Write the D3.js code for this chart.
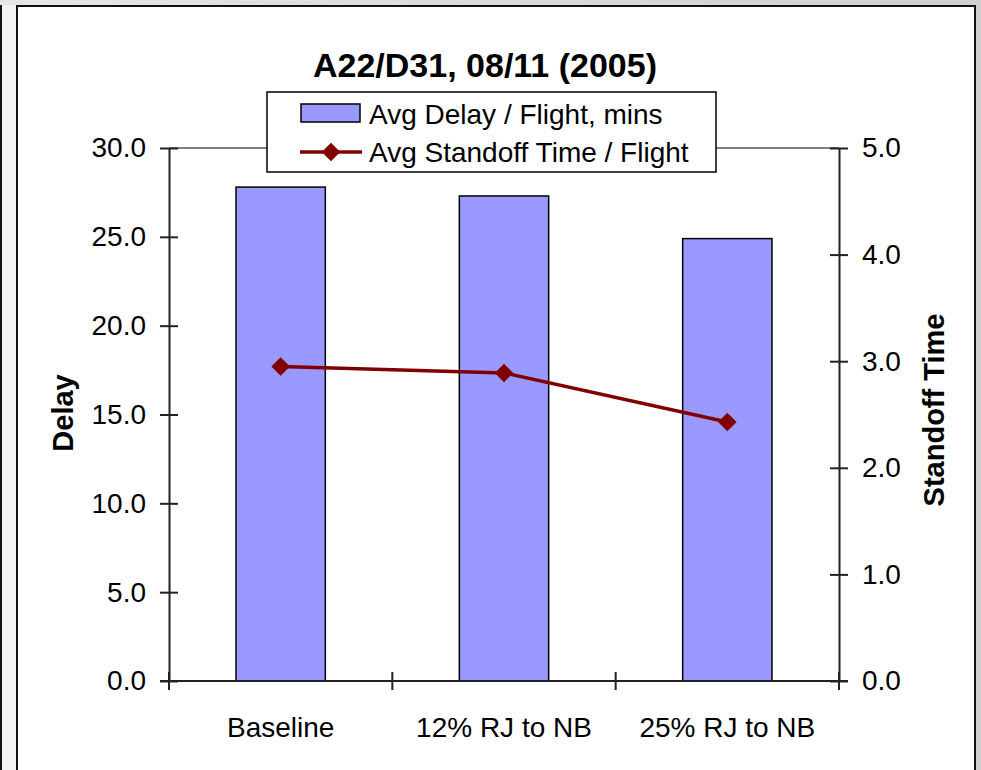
<!DOCTYPE html>
<html><head><meta charset="utf-8">
<script src="https://cdn.jsdelivr.net/npm/d3@7"></script>
<style>
html,body{margin:0;padding:0;background:#dcdcdc;overflow:hidden;}
svg{display:block;font-family:"Liberation Sans",Arial,sans-serif;}
</style></head>
<body>
<script>
const categories = ["Baseline", "12% RJ to NB", "25% RJ to NB"];
const delayValues = [27.8, 27.3, 24.9];
const standoffValues = [2.95, 2.89, 2.43];
const leftTicks = [0, 5, 10, 15, 20, 25, 30];
const rightTicks = [0, 1, 2, 3, 4, 5];
const titleText = "A22/D31, 08/11 (2005)";
const seriesNames = ["Avg Delay / Flight, mins", "Avg Standoff Time / Flight"];

(function(){
const W = 981, H = 770;
const svg = d3.select("body").append("svg").attr("width", W).attr("height", H);

// background / frame
const grad = svg.append("defs").append("linearGradient").attr("id","bg").attr("x1",0).attr("x2",1);
grad.append("stop").attr("offset","0%").attr("stop-color","#e6e6e6");
grad.append("stop").attr("offset","100%").attr("stop-color","#cfcfcf");
svg.append("rect").attr("width",W).attr("height",H).attr("fill","url(#bg)");
svg.append("rect").attr("x",0).attr("y",5).attr("width",16).attr("height",H).attr("fill","#f2f2f2");
svg.append("line").attr("x1",1).attr("x2",1).attr("y1",5).attr("y2",H).attr("stroke","#111").attr("stroke-width",2);
svg.append("rect").attr("x",17).attr("y",6).attr("width",958).attr("height",H).attr("fill","#fff")
  .attr("stroke","#111").attr("stroke-width",2);

const pl = 169, pr = 839, pt = 148, pb = 681;
const x = d3.scaleBand().domain(categories).range([pl, pr]).paddingInner(0.6).paddingOuter(0.3);
const yL = d3.scaleLinear().domain([0, 30]).range([pb, pt]);
const yR = d3.scaleLinear().domain([0, 5]).range([pb, pt]);
const xc = d => x(d) + x.bandwidth()/2;

// plot area top border
svg.append("line").attr("x1",pl).attr("x2",pr).attr("y1",pt).attr("y2",pt)
  .attr("stroke","#808080").attr("stroke-width",2);

// bars
svg.append("g").selectAll("rect").data(categories).join("rect")
  .attr("x", d => x(d)).attr("width", x.bandwidth())
  .attr("y", (d,i) => yL(delayValues[i])).attr("height", (d,i) => pb - yL(delayValues[i]))
  .attr("fill","#9999ff").attr("stroke","#000").attr("stroke-width",1.5);

// axes
const fmt = d3.format(".1f");
const gL = svg.append("g").attr("transform",`translate(${pl},0)`)
  .call(d3.axisLeft(yL).tickValues(leftTicks).tickFormat(fmt).tickSizeInner(9).tickSizeOuter(0).tickPadding(14));
const gR = svg.append("g").attr("transform",`translate(${pr},0)`)
  .call(d3.axisRight(yR).tickValues(rightTicks).tickFormat(fmt).tickSizeInner(9).tickSizeOuter(0).tickPadding(14));
[gL, gR].forEach(g => {
  g.select(".domain").attr("stroke","#222").attr("stroke-width",2);
  g.selectAll(".tick line").attr("stroke","#222").attr("stroke-width",2);
  g.selectAll(".tick text").attr("font-size",28).attr("fill","#000").attr("font-family","Liberation Sans, Arial, sans-serif");
});
gL.selectAll(".tick").append("line").attr("x1",0).attr("x2",9).attr("stroke","#222").attr("stroke-width",2);
gR.selectAll(".tick").append("line").attr("x1",0).attr("x2",-9).attr("stroke","#222").attr("stroke-width",2);

// x axis
const gX = svg.append("g").attr("transform",`translate(0,${pb})`);
gX.append("line").attr("x1",pl-9).attr("x2",pr+9).attr("stroke","#222").attr("stroke-width",2);
const bounds = d3.range(categories.length+1).map(i => pl + i*(pr-pl)/categories.length);
gX.selectAll("line.t").data(bounds).join("line").attr("class","t")
  .attr("x1",d=>d).attr("x2",d=>d).attr("y1",-9).attr("y2",9).attr("stroke","#222").attr("stroke-width",2);
gX.selectAll("text").data(categories).join("text")
  .attr("x", d => xc(d)).attr("y", 56).attr("text-anchor","middle")
  .attr("font-size",28).text(d => d);

// line series
const line = d3.line().x(d => xc(d.c)).y(d => yR(d.v));
const pts = categories.map((c,i) => ({c, v: standoffValues[i]}));
svg.append("path").datum(pts).attr("d", line).attr("fill","none").attr("stroke","#800000").attr("stroke-width",3.5);
const diamond = d3.symbol().type(d3.symbolDiamond2).size(220);
svg.append("g").selectAll("path").data(pts).join("path")
  .attr("transform", d => `translate(${xc(d.c)},${yR(d.v)})`)
  .attr("d", diamond).attr("fill","#800000");

// title
svg.append("text").attr("x",485).attr("y",77).attr("text-anchor","middle")
  .attr("font-size",34).attr("font-weight","bold").text(titleText);

// axis titles
svg.append("text").attr("transform","translate(73,413) rotate(-90)").attr("text-anchor","middle")
  .attr("font-size",29).attr("font-weight","bold").text("Delay");
svg.append("text").attr("transform","translate(944,410) rotate(-90)").attr("text-anchor","middle")
  .attr("font-size",29).attr("font-weight","bold").text("Standoff Time");

// legend
const lg = svg.append("g");
lg.append("rect").attr("x",267).attr("y",92).attr("width",449).attr("height",80)
  .attr("fill","#fff").attr("stroke","#000").attr("stroke-width",1.5);
lg.append("rect").attr("x",301).attr("y",104).attr("width",59).attr("height",18)
  .attr("fill","#9999ff").attr("stroke","#000").attr("stroke-width",1.5);
lg.append("line").attr("x1",300).attr("x2",362).attr("y1",152).attr("y2",152).attr("stroke","#800000").attr("stroke-width",3.5);
lg.append("path").attr("transform","translate(331,152)").attr("d",diamond).attr("fill","#800000");
lg.selectAll("text").data(seriesNames).join("text")
  .attr("x",369).attr("y",(d,i)=> 124 + i*38).attr("font-size",28).text(d=>d);
})();
</script>
</body></html>
